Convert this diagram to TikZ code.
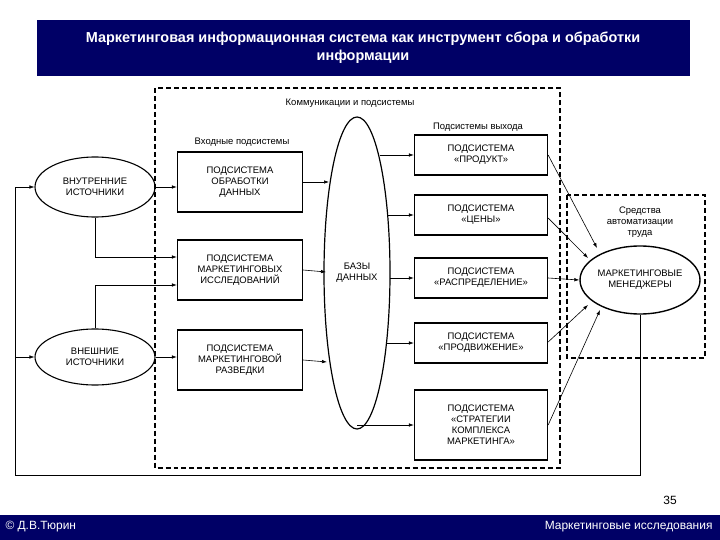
\documentclass[tikz,border=0pt]{standalone}
\usepackage{fontspec}
\setmainfont{Liberation Sans}
\usetikzlibrary{arrows.meta,shapes.geometric}
\definecolor{navy}{RGB}{0,0,102}
\begin{document}
\begin{tikzpicture}[x=1bp,y=-1bp,
  box/.style={draw,line width=1.3pt,minimum width=125bp,align=center,font=\fontsize{9.5}{11}\selectfont,inner sep=2pt},
  rbox/.style={draw,line width=1.3pt,minimum width=133bp,align=center,font=\fontsize{9.5}{11}\selectfont,inner sep=2pt},
  ell/.style={draw,ellipse,line width=1.1pt,minimum width=120bp,minimum height=60bp,align=center,font=\fontsize{9.5}{11}\selectfont,inner sep=0pt},
  lbl/.style={font=\fontsize{9.5}{11}\selectfont,align=center},
  arr/.style={-{Latex[length=5pt,width=3.5pt]},line width=0.6pt},
  dsh/.style={line width=1.6pt,dash pattern=on 5pt off 3pt}]
\useasboundingbox (0,0) rectangle (720,540);
\fill[white] (0,0) rectangle (720,540);
\fill[navy] (37,20) rectangle (690,76);
\node[text=white,font=\bfseries\fontsize{14.5}{18}\selectfont,align=center] (title) at (363,48) {Маркетинговая информационная система как инструмент сбора и обработки\\информации};
\fill[navy] (0,515) rectangle (720,540);
\node[text=white,font=\fontsize{12}{14}\selectfont,anchor=west] (copy) at (2,527) {© Д.В.Тюрин};
\node[text=white,font=\fontsize{12}{14}\selectfont,anchor=east] (course) at (716,527) {Маркетинговые исследования};
\node[font=\fontsize{12}{14}\selectfont] (pg) at (670,500) {35};
% frames
\draw[dsh] (155,88) rectangle (560,468);
\draw[dsh] (567,195) rectangle (705,358);
\node[lbl] (kom) at (350,103) {Коммуникации и подсистемы};
\node[lbl] (vh) at (242,142) {Входные подсистемы};
\node[lbl] (vyh) at (478,127) {Подсистемы выхода};
\node[lbl] (sr) at (640,222) {Средства\\автоматизации\\труда};
% DB
\node[draw,ellipse,line width=1.2pt,minimum width=66bp,minimum height=312bp,font=\fontsize{9.5}{11}\selectfont,align=center,inner sep=0pt] (db) at (357,273) {БАЗЫ\\ДАННЫХ};
% left
\node[box,minimum height=60bp] (b1) at (240,182) {ПОДСИСТЕМА\\ОБРАБОТКИ\\ДАННЫХ};
\node[box,minimum height=60bp] (b2) at (240,270) {ПОДСИСТЕМА\\МАРКЕТИНГОВЫХ\\ИССЛЕДОВАНИЙ};
\node[box,minimum height=60bp] (b3) at (240,360) {ПОДСИСТЕМА\\МАРКЕТИНГОВОЙ\\РАЗВЕДКИ};
\node[ell] (vn) at (95,187) {ВНУТРЕННИЕ\\ИСТОЧНИКИ};
\node[ell,minimum height=56bp] (ex) at (95,357) {ВНЕШНИЕ\\ИСТОЧНИКИ};
% right
\node[rbox,minimum height=40bp] (r1) at (481,155) {ПОДСИСТЕМА\\«ПРОДУКТ»};
\node[rbox,minimum height=40bp] (r2) at (481,215) {ПОДСИСТЕМА\\«ЦЕНЫ»};
\node[rbox,minimum height=40bp] (r3) at (481,278) {ПОДСИСТЕМА\\«РАСПРЕДЕЛЕНИЕ»};
\node[rbox,minimum height=40bp] (r4) at (481,343) {ПОДСИСТЕМА\\«ПРОДВИЖЕНИЕ»};
\node[rbox,minimum height=70bp] (r5) at (481,425) {ПОДСИСТЕМА\\«СТРАТЕГИИ\\КОМПЛЕКСА\\МАРКЕТИНГА»};
\node[ell,minimum height=68bp,line width=1.4pt] (mm) at (640,280) {МАРКЕТИНГОВЫЕ\\МЕНЕДЖЕРЫ};
% arrows left
\draw[arr] (vn.east) -- (b1.west |- vn.east);
\draw[arr] (vn.south) |- (b2.west |- 0,257);
\draw[arr] (ex.north) |- (b2.west |- 0,285);
\draw[arr] (ex.east) -- (b3.west |- ex.east);
\draw[arr] (b1.east) -- (329,182);
\draw[arr] (b2.east) -- (326,272);
\draw[arr] (b3.east) -- (327,362);
% DB to right
\draw[arr] (380,155) -- (r1.west);
\draw[arr] (387,215) -- (r2.west);
\draw[arr] (390,278) -- (r3.west);
\draw[arr] (387,343) -- (r4.west);
\draw[arr] (357,425) -- (r5.west);
% right to managers
\draw[arr] (r1.east |- 0,155) -- (597,248);
\draw[arr] (r2.east |- 0,218) -- (588,258);
\draw[arr] (r3.east) -- (mm.west);
\draw[arr] (r4.east |- 0,342) -- (588,305);
\draw[arr] (r5.east |- 0,425) -- (600,310);
% feedback
\coordinate (fb) at (15,475);
\draw[line width=0.6pt] (mm.south) |- (fb);
\draw[arr] (fb) |- (vn.west);
\draw[arr] (15,357) -- (ex.west);
\end{tikzpicture}
\end{document}
